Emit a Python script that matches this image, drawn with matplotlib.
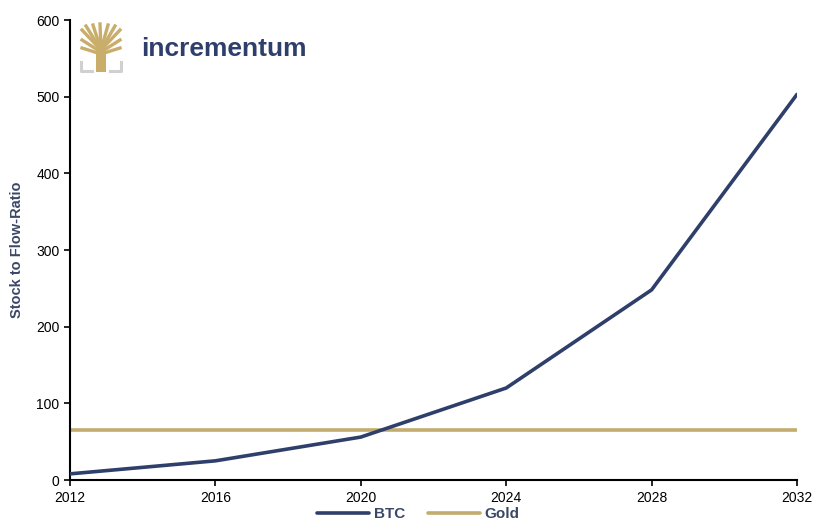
import matplotlib
matplotlib.use("Agg")
import matplotlib.pyplot as plt
from matplotlib.lines import Line2D
from matplotlib.patches import Rectangle

plt.rcParams['font.family'] = ['Liberation Sans', 'DejaVu Sans']

years = [2012, 2016, 2020, 2024, 2028, 2032]
btc = [8, 25, 56, 120, 248, 503]
gold = [65, 65, 65, 65, 65, 65]
x_ticks = [2012, 2016, 2020, 2024, 2028, 2032]
y_ticks = [0, 100, 200, 300, 400, 500, 600]

navy = '#2f3f6b'
goldc = '#c4ab6e'

fig = plt.figure(figsize=(8.13, 5.21), dpi=100)
ax = fig.add_axes([70/813, 41/521, 727/813, 460/521])

ax.plot(years, btc, color=navy, lw=2.6, solid_capstyle='round', label='BTC', zorder=3)
ax.plot(years, gold, color=goldc, lw=2.6, solid_capstyle='round', label='Gold', zorder=2)

ax.set_xlim(2012, 2032)
ax.set_ylim(0, 600)
ax.set_xticks(x_ticks)
ax.set_yticks(y_ticks)
ax.tick_params(axis='both', labelsize=10, colors='black', length=4, width=1.2, direction='out')
ax.tick_params(axis='x', pad=4)
for s in ['top', 'right']:
    ax.spines[s].set_visible(False)
for s in ['left', 'bottom']:
    ax.spines[s].set_linewidth(1.5)
ax.set_ylabel('Stock to Flow-Ratio', fontsize=10.5, fontweight='bold', color='#3a4766', labelpad=9)

leg = ax.legend(loc='center', bbox_to_anchor=(0.479, -0.074), ncol=2, frameon=False,
                fontsize=11, handlelength=3.4, columnspacing=1.5, handletextpad=0.3,
                borderpad=0.1)
for t in leg.get_texts():
    t.set_fontweight('bold')
    t.set_color('#3a4766')

# Logo
fx = lambda px: px / 813
fy = lambda py: 1 - py / 521
grey = '#d0d0d0'
fig.add_artist(Line2D([fx(81), fx(81), fx(92)], [fy(62), fy(71), fy(71)], color=grey, lw=2.2))
fig.add_artist(Line2D([fx(110), fx(121), fx(121)], [fy(71), fy(71), fy(62)], color=grey, lw=2.2))
tg = '#c9ad6a'
fig.add_artist(Rectangle((fx(96), fy(72)), fx(10), fy(48) - fy(72), color=tg, lw=0))
branches = [(101, 50, 82, 30), (101, 50, 86, 26), (101, 50, 93, 25), (101, 50, 100, 24),
            (101, 50, 108, 25), (101, 50, 115, 26), (101, 50, 120, 30), (101, 52, 82, 40),
            (101, 52, 120, 40), (101, 54, 82, 48), (101, 54, 120, 48)]
for x0, y0, x1, y1 in branches:
    fig.add_artist(Line2D([fx(x0), fx(x1)], [fy(y0), fy(y1)], color=tg, lw=2.4))
fig.text(fx(141), fy(49), 'incrementum', fontsize=19, fontweight='bold', color='#2f3f6b',
         va='center', ha='left')

fig.savefig('out.png', dpi=100)
